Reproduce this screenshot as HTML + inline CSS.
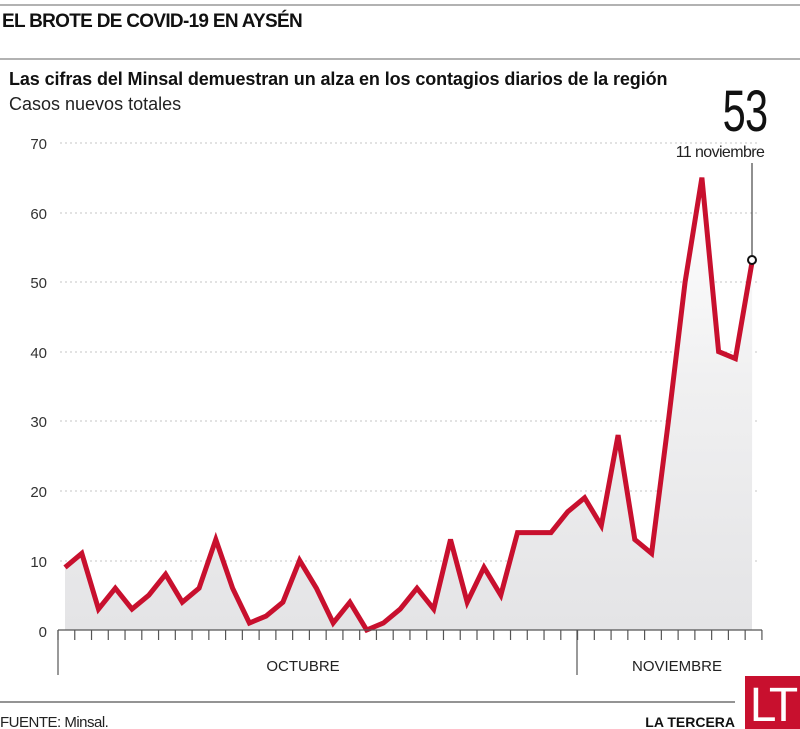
<!DOCTYPE html>
<html><head><meta charset="utf-8"><style>
body{margin:0;background:#fff;}
svg{display:block;font-family:"Liberation Sans",sans-serif;}
</style></head><body>
<svg width="800" height="729" viewBox="0 0 800 729">
<defs><linearGradient id="g" x1="0" y1="0" x2="0" y2="1"><stop offset="0" stop-color="#fff"/><stop offset="0.45" stop-color="#f0f0f1"/><stop offset="1" stop-color="#e4e4e6"/></linearGradient></defs>
<line x1="0" y1="5" x2="800" y2="5" stroke="#999" stroke-width="1.5"/>
<line x1="0" y1="59" x2="800" y2="59" stroke="#999" stroke-width="1.5"/>
<text x="2" y="27" font-size="19" font-weight="bold" letter-spacing="-0.7" fill="#111">EL BROTE DE COVID-19 EN AYSÉN</text>
<text x="9" y="85" font-size="18" font-weight="bold" letter-spacing="-0.1" fill="#111">Las cifras del Minsal demuestran un  alza  en los contagios diarios de la región</text>
<text x="9" y="110" font-size="18" fill="#222">Casos nuevos totales</text>
<g stroke="#c4c4c4" stroke-dasharray="2,3" stroke-width="1">
<line x1="60" y1="143" x2="760" y2="143"/><line x1="60" y1="213" x2="760" y2="213"/><line x1="60" y1="282" x2="760" y2="282"/><line x1="60" y1="352" x2="760" y2="352"/><line x1="60" y1="421" x2="760" y2="421"/><line x1="60" y1="491" x2="760" y2="491"/><line x1="60" y1="561" x2="760" y2="561"/>
</g>
<g font-size="15" fill="#333" text-anchor="end">
<text x="47" y="149">70</text><text x="47" y="219">60</text><text x="47" y="288">50</text><text x="47" y="358">40</text><text x="47" y="427">30</text><text x="47" y="497">20</text><text x="47" y="567">10</text><text x="47" y="637">0</text>
</g>
<polygon id="area" fill="url(#g)" points=""/>
<polyline id="ln" fill="none" stroke="#c8102e" stroke-width="5" stroke-linejoin="miter" points=""/>
<line x1="752" y1="163" x2="752" y2="257" stroke="#222" stroke-width="1"/>
<circle cx="752" cy="260" r="4" fill="#fff" stroke="#111" stroke-width="2"/>
<text transform="translate(745,131) scale(0.8,1.12)" font-size="52" fill="#111" text-anchor="middle" letter-spacing="-1">53</text>
<text x="720" y="157" font-size="16" fill="#222" text-anchor="middle" letter-spacing="-0.6">11 noviembre</text>
<g id="ax" stroke="#555" stroke-width="1.2"></g>
<text x="303" y="671" font-size="15" fill="#222" text-anchor="middle">OCTUBRE</text>
<text x="677" y="671" font-size="15" fill="#222" text-anchor="middle">NOVIEMBRE</text>
<line x1="0" y1="702" x2="735" y2="702" stroke="#555" stroke-width="1.2"/>
<text x="0" y="727" font-size="15" fill="#222" letter-spacing="-0.5">FUENTE: Minsal.</text>
<text x="735" y="727" font-size="14" font-weight="bold" fill="#111" text-anchor="end">LA TERCERA</text>
<rect x="745" y="676" width="55" height="53" fill="#c8102e"/>
<text x="772" y="721" font-size="48" fill="#fff" text-anchor="middle" letter-spacing="-4">LT</text>
</svg>
<script>
var v=[9,11,3,6,3,5,8,4,6,13,6,1,2,4,10,6,1,4,0,1,3,6,3,13,4,9,5,14,14,14,17,19,15,28,13,11,30,50,65,40,39,53];
var p=[];for(var i=0;i<v.length;i++){p.push((65+i*16.76).toFixed(1)+","+(630-v[i]*6.96).toFixed(1));}
document.getElementById('ln').setAttribute('points',p.join(' '));
document.getElementById('area').setAttribute('points',"65,630 "+p.join(' ')+" 752,630");
var ax=document.getElementById('ax'),s='<line x1="58" y1="630" x2="762" y2="630"/>';
for(var k=0;k<=42;k++){var x=58+k*16.76;s+='<line x1="'+x+'" y1="630" x2="'+x+'" y2="640"/>';}
s+='<line x1="58" y1="630" x2="58" y2="675"/><line x1="577" y1="630" x2="577" y2="675"/>';
ax.innerHTML=s;
</script>
</body></html>
